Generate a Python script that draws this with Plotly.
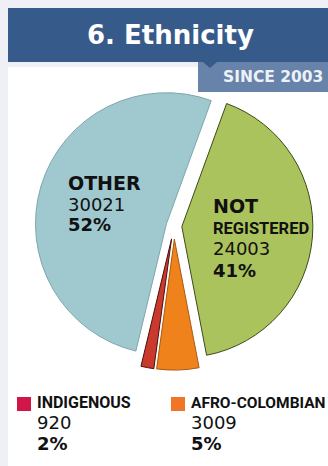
import plotly.graph_objects as go

W, H = 328, 466

categories = ["NOT REGISTERED", "AFRO-COLOMBIAN", "INDIGENOUS", "OTHER"]
values = [24003, 3009, 920, 30021]
percents = ["41%", "5%", "2%", "52%"]
pie_colors = ["#abc35c", "#f0821c", "#c9392c", "#a0c9cf"]
line_colors = ["#3d4a1a", "#a85a12", "#4a100c", "#7ea6ad"]
pulls = [0.06, 0.10, 0.10, 0.06]
legend_colors = {"INDIGENOUS": "#d3164a", "AFRO-COLOMBIAN": "#f07524"}

title_text = "6. Ethnicity"
subtitle_text = "SINCE 2003"

def px(x):
    return x / W

def py(y):
    return 1 - y / H

# pie geometry (page pixels)
cx, cy, r = 174, 226, 131
half = r * (1 + max(pulls))

fig = go.Figure()
fig.add_trace(go.Pie(
    labels=categories, values=values, sort=False, direction="clockwise",
    rotation=20, pull=pulls, textinfo="none", hoverinfo="label+value+percent",
    marker=dict(colors=pie_colors, line=dict(color=line_colors, width=1)),
    domain=dict(x=[px(cx - half), px(cx + half)], y=[py(cy + half), py(cy - half)]),
    showlegend=False,
))

shapes = [
    dict(type="rect", xref="paper", yref="paper", x0=px(8), x1=px(328), y0=py(466), y1=py(67),
         fillcolor="white", line=dict(width=0), layer="below"),
    dict(type="rect", xref="paper", yref="paper", x0=px(8), x1=px(328), y0=py(62), y1=py(8),
         fillcolor="#365a89", line=dict(width=0), layer="below"),
    dict(type="rect", xref="paper", yref="paper", x0=px(198), x1=px(328), y0=py(92), y1=py(62),
         fillcolor="#6783aa", line=dict(width=0)),
    dict(type="path", xref="paper", yref="paper",
         path=f"M {px(203)} {py(62)} L {px(217)} {py(62)} L {px(210)} {py(68)} Z",
         fillcolor="#365a89", line=dict(width=0)),
]

annotations = []

def text(x, y, s, size, family="DejaVu Sans", color="#111111", anchor="left"):
    annotations.append(dict(xref="paper", yref="paper", x=px(x), y=py(y), text=s,
                            showarrow=False, xanchor=anchor, yanchor="bottom",
                            font=dict(size=size, family=family, color=color)))

# title
annotations.append(dict(xref="paper", yref="paper", x=px(170), y=py(35), text=f"<b>{title_text}</b>",
                        showarrow=False, xanchor="center", yanchor="middle",
                        font=dict(size=26, family="DejaVu Sans", color="white")))
annotations.append(dict(xref="paper", yref="paper", x=px(325), y=py(77), text=f"<b>{subtitle_text}</b>",
                        showarrow=False, xanchor="right", yanchor="middle",
                        font=dict(size=15.5, family="DejaVu Sans", color="#eef2f7")))

cond = "Roboto"

# OTHER label
text(66, 196, "<b>OTHER</b>", 19)
text(66, 217, f"{values[3]}", 18)
text(66, 237, f"<b>{percents[3]}</b>", 18)

# NOT REGISTERED label
text(211, 219, "<b>NOT</b>", 19)
text(211, 240, "<b>REGISTERED</b>", 16.5, family=cond)
text(211, 261, f"{values[0]}", 18)
text(211, 283, f"<b>{percents[0]}</b>", 18)

# legend-like labels
for name, sx, idx in [("INDIGENOUS", 17, 2), ("AFRO-COLOMBIAN", 171, 1)]:
    shapes.append(dict(type="rect", xref="paper", yref="paper", x0=px(sx), x1=px(sx + 14),
                       y0=py(411), y1=py(397), fillcolor=legend_colors[name], line=dict(width=0)))
    text(sx + 18, 414, f"<b>{name}</b>", 16 if idx == 2 else 15.5, family=cond)
    text(sx + 18, 435, f"{values[idx]}", 18)
    text(sx + 18, 456, f"<b>{percents[idx]}</b>", 18)

fig.update_layout(
    width=W, height=H, margin=dict(l=0, r=0, t=0, b=0),
    paper_bgcolor="#eef0f5", plot_bgcolor="#eef0f5",
    shapes=shapes, annotations=annotations,
)

fig.write_html("out.html", config={"displayModeBar": False})
